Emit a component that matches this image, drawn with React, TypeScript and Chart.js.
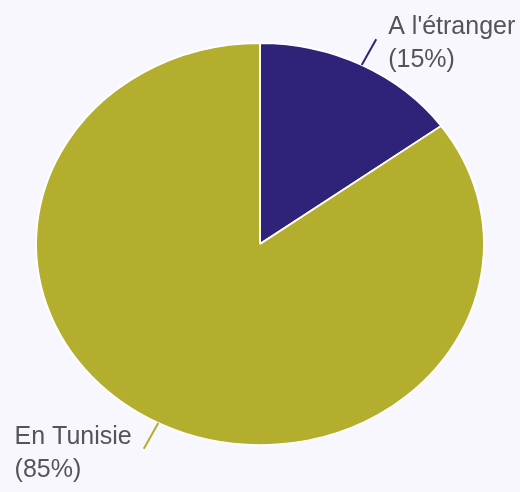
import React, { useEffect, useRef } from "react";
import { Chart, registerables } from "chart.js";

Chart.register(...registerables);

const categories = ["A l'étranger", "En Tunisie"];
const values = [15, 85];
const sliceColors = ["#2e2379", "#b4ae2f"];

const BG = "#f8f7fd";
const Y_SCALE = 201 / 224;

const ellipsePlugin = {
  id: "ellipse",
  beforeDatasetsDraw(chart: any) {
    const arc = chart.getDatasetMeta(0).data[0];
    if (!arc) return;
    const ctx = chart.ctx;
    ctx.save();
    ctx.translate(arc.x, arc.y);
    ctx.scale(1, Y_SCALE);
    ctx.translate(-arc.x, -arc.y);
  },
  afterDatasetsDraw(chart: any) {
    chart.ctx.restore();
  },
};

const labelPlugin = {
  id: "outLabels",
  afterDraw(chart: any) {
    const ctx = chart.ctx;
    const meta = chart.getDatasetMeta(0);
    const data = chart.data.datasets[0].data as number[];
    const total = data.reduce((a, b) => a + b, 0);
    meta.data.forEach((arc: any, i: number) => {
      const mid = (arc.startAngle + arc.endAngle) / 2;
      const r = arc.outerRadius;
      const ext = 32;
      const c = Math.cos(mid);
      const s = Math.sin(mid);
      const x1 = arc.x + c * r;
      const y1 = arc.y + s * r * Y_SCALE;
      const x2 = arc.x + c * (r + ext);
      const y2 = arc.y + s * (r + ext) * Y_SCALE;
      ctx.save();
      ctx.strokeStyle = sliceColors[i];
      ctx.lineWidth = 2;
      ctx.beginPath();
      ctx.moveTo(x1, y1);
      ctx.lineTo(x2, y2);
      ctx.stroke();
      ctx.font = '25px "Liberation Sans", Arial, sans-serif';
      ctx.fillStyle = "#555555";
      ctx.textAlign = "left";
      ctx.textBaseline = "alphabetic";
      const lines = [
        String(chart.data.labels[i]),
        "(" + Math.round((data[i] / total) * 100) + "%)",
      ];
      const maxW = Math.max(...lines.map((l) => ctx.measureText(l).width));
      const tx = c >= 0 ? x2 + 12 : x2 - 12 - maxW;
      lines.forEach((l, k) => {
        ctx.fillText(l, tx, y2 - 5 + k * 33);
      });
      ctx.restore();
    });
  },
};

export default function App() {
  const ref = useRef<HTMLCanvasElement | null>(null);
  useEffect(() => {
    document.body.style.margin = "0";
    document.body.style.background = BG;
    const canvas = ref.current!;
    const chart = new Chart(canvas, {
      type: "pie",
      data: {
        labels: categories,
        datasets: [
          {
            data: values,
            backgroundColor: sliceColors,
            borderColor: "#ffffff",
            borderWidth: 2,
          },
        ],
      },
      options: {
        animation: false,
        responsive: false,
        devicePixelRatio: 1,
        radius: 224,
        layout: { padding: { top: 0, bottom: 4, left: 0, right: 0 } },
        plugins: {
          legend: { display: false },
          tooltip: { enabled: false },
        },
      },
      plugins: [ellipsePlugin, labelPlugin],
    });
    return () => chart.destroy();
  }, []);
  return (
    <div style={{ width: 520, height: 492, background: BG }}>
      <canvas ref={ref} width={520} height={492} style={{ display: "block" }} />
    </div>
  );
}
